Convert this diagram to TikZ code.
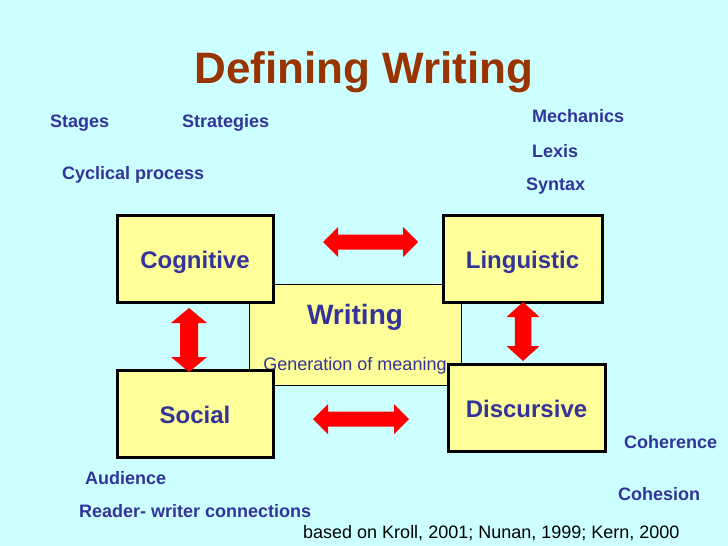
\documentclass[tikz,border=0pt]{standalone}
\usepackage{fontspec}
\setmainfont{Liberation Sans}
\usepackage{xcolor}
\usetikzlibrary{positioning,calc}
\definecolor{bgcyan}{HTML}{CCFFFF}
\definecolor{boxyellow}{HTML}{FFFF99}
\definecolor{labelblue}{HTML}{333399}
\definecolor{titlebrown}{HTML}{993300}
\definecolor{arrowred}{HTML}{FF0000}

\begin{document}
\begin{tikzpicture}[x=1pt, y=-1pt,
    areabox/.style={draw=black, line width=3pt, fill=boxyellow, text=labelblue,
        font=\fontsize{24}{28}\selectfont\bfseries, inner sep=0pt,
        text height=20pt, text depth=0pt},
    note/.style={text=labelblue, anchor=west, inner sep=0pt,
        text height=12.9pt, text depth=0pt,
        font=\fontsize{18}{21}\selectfont\bfseries},
    fatarrow/.pic={
        \fill[arrowred] (-#1,0) -- (-#1+15,-15) -- (-#1+15,-7.5) -- (#1-15,-7.5)
            -- (#1-15,-15) -- (#1,0) -- (#1-15,15) -- (#1-15,7.5)
            -- (-#1+15,7.5) -- (-#1+15,15) -- cycle;
    }]
    % Background
    \fill[bgcyan] (0,0) rectangle (728,546);

    % Title
    \node[text=titlebrown, font=\fontsize{44}{50}\selectfont\bfseries] (title) at (364,72) {Defining Writing};

    % Central box
    \node[draw=black, line width=1pt, fill=boxyellow, minimum width=212pt, minimum height=101pt] (writing) at (355.5,334.5) {};
    \node[text=labelblue, font=\fontsize{28}{32}\selectfont\bfseries] (wtitle) at (355,317) {Writing};
    \node[text=labelblue, font=\fontsize{18}{22}\selectfont] (wsub) at (355,365.5) {Generation of meaning};

    % Four boxes
    \node[areabox, minimum width=156pt, minimum height=87pt] (cognitive) at (195,258.5) {Cognitive};
    \node[areabox, minimum width=159pt, minimum height=87pt] (linguistic) at (522.5,258.5) {Linguistic};
    \node[areabox, minimum width=156pt, minimum height=87pt] (social) at (195,413.5) {Social};
    \node[areabox, minimum width=157pt, minimum height=87pt] (discursive) at (526.5,407.5) {Discursive};

    % Double arrows
    \pic at (370.5,242) {fatarrow={47.5}};
    \pic at (361,419) {fatarrow={48}};
    \pic[rotate=90, yscale=1.2] at (189,340) {fatarrow={32}};
    \pic[rotate=90, yscale=1.1] at (523,331.5) {fatarrow={29.5}};

    % Cognitive notes
    \node[note] (stages) at (50,121) {Stages};
    \node[note] (strategies) at (182,121) {Strategies};
    \node[note] (cyclical) at (62,173) {Cyclical process};

    % Linguistic notes
    \node[note] (mechanics) at (532,116) {Mechanics};
    \node[note] (lexis) at (532,151) {Lexis};
    \node[note] (syntax) at (526,184) {Syntax};

    % Discursive notes
    \node[note] (coherence) at (624,442) {Coherence};
    \node[note] (cohesion) at (618,494) {Cohesion};

    % Social notes
    \node[note] (audience) at (85,478) {Audience};
    \node[note] (readerwriter) at (79,511) {Reader- writer connections};

    % Source
    \node[anchor=west, inner sep=0pt, font=\fontsize{18}{22}\selectfont] (source) at (303,533) {based on Kroll, 2001; Nunan, 1999; Kern, 2000};
\end{tikzpicture}
\end{document}
